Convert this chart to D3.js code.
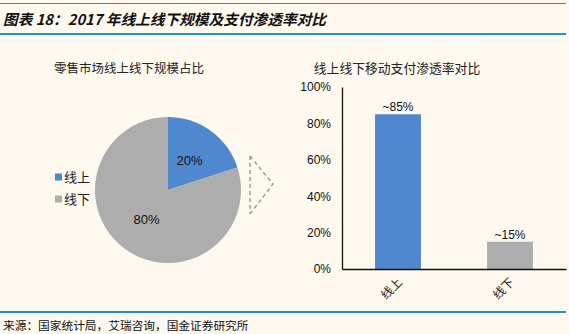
<!DOCTYPE html>
<html><head><meta charset="utf-8">
<script src="https://cdn.jsdelivr.net/npm/d3@7/dist/d3.min.js"></script>
<style>
html,body{margin:0;padding:0;background:#fdf9ef;}
svg{display:block;}
</style></head>
<body>
<svg id="c" width="569" height="334"></svg>
<script>
const pieCategories = ["线上", "线下"];
const pieValues = [20, 80];
const pieLabels = ["20%", "80%"];
const barCategories = ["线上", "线下"];
const barValues = [0.85, 0.15];
const barLabels = ["~85%", "~15%"];
const yTicks = [0, 0.2, 0.4, 0.6, 0.8, 1.0];
const colors = ["#5088d0", "#adadad"];

const svg = d3.select("#c");
const cjk = "'Noto Sans CJK SC','Microsoft YaHei',sans-serif";
const num = "'Liberation Sans',Arial,sans-serif";
const lineColor = "#1a93d1";

// header/footer lines
svg.append("line").attr("x1",0).attr("x2",566).attr("y1",3.5).attr("y2",3.5).attr("stroke",lineColor).attr("stroke-width",1);
svg.append("line").attr("x1",0).attr("x2",566).attr("y1",34).attr("y2",34).attr("stroke",lineColor).attr("stroke-width",2);
svg.append("line").attr("x1",0).attr("x2",566).attr("y1",312).attr("y2",312).attr("stroke",lineColor).attr("stroke-width",2);

svg.append("text").attr("x",3).attr("y",25).attr("font-family",cjk).attr("font-size",14.7)
  .attr("font-weight","bold").attr("font-style","italic").attr("fill","#111")
  .text("图表 18：2017 年线上线下规模及支付渗透率对比");
svg.append("text").attr("x",3).attr("y",330).attr("font-family",cjk).attr("font-size",11.7).attr("fill","#111")
  .text("来源：国家统计局，艾瑞咨询，国金证券研究所");

// ---- pie ----
svg.append("text").attr("x",129).attr("y",73).attr("text-anchor","middle").attr("font-family",cjk)
  .attr("font-size",12.5).attr("fill","#222").text("零售市场线上线下规模占比");
const cx = 168, cy = 190, r = 73;
const pie = d3.pie().sort(null).value(d => d)(pieValues);
const arc = d3.arc().innerRadius(0).outerRadius(r);
const g = svg.append("g").attr("transform",`translate(${cx},${cy})`);
g.selectAll("path").data(pie).join("path").attr("d",arc).attr("fill",(d,i)=>colors[i]);
const labelArc = d3.arc().innerRadius(r*0.5).outerRadius(r*0.5);
g.selectAll("text.pl").data(pie).join("text").attr("class","pl")
  .attr("transform",(d,i)=>{const c=labelArc.centroid(d); return `translate(${c[0]},${c[1]})`;})
  .attr("text-anchor","middle").attr("dy","0.35em").attr("font-family",num).attr("font-size",13)
  .attr("fill","#111").text((d,i)=>pieLabels[i]);

// legend
const lg = svg.append("g");
pieCategories.forEach((c,i)=>{
  const y = 177 + i*22;
  lg.append("rect").attr("x",55).attr("y",y-3.5).attr("width",7).attr("height",7).attr("fill",colors[i]);
  lg.append("text").attr("x",64).attr("y",y).attr("dy","0.35em").attr("font-family",cjk).attr("font-size",13)
    .attr("fill","#222").text(c);
});

// dashed triangle
svg.append("path").attr("d","M250,156 L250,214 M250,156 L273,184 L250,214")
  .attr("fill","none").attr("stroke","#8796aa").attr("stroke-width",1.3).attr("stroke-dasharray","4,3");

// ---- bar ----
svg.append("text").attr("x",397).attr("y",73).attr("text-anchor","middle").attr("font-family",cjk)
  .attr("font-size",12.8).attr("fill","#222").text("线上线下移动支付渗透率对比");
const x0 = 342, x1 = 566, yTop = 87, yBot = 269;
const x = d3.scaleBand().domain(barCategories).range([x0,x1]).paddingInner(0.59).paddingOuter(0.295);
const y = d3.scaleLinear().domain([0,1]).range([yBot,yTop]);
svg.selectAll("rect.bar").data(barValues).join("rect").attr("class","bar")
  .attr("x",(d,i)=>x(barCategories[i])).attr("width",x.bandwidth())
  .attr("y",d=>y(d)).attr("height",d=>yBot-y(d)).attr("fill",(d,i)=>colors[i]);
svg.selectAll("text.bl").data(barValues).join("text").attr("class","bl")
  .attr("x",(d,i)=>x(barCategories[i])+x.bandwidth()/2).attr("y",d=>y(d)-3)
  .attr("text-anchor","middle").attr("font-family",num).attr("font-size",12).attr("fill","#111")
  .text((d,i)=>barLabels[i]);

const yAxis = svg.append("g").attr("transform",`translate(${x0},0)`)
  .call(d3.axisLeft(y).tickValues(yTicks).tickSize(0).tickPadding(11).tickFormat(d3.format(".0%")));
yAxis.select(".domain").attr("stroke","#111").attr("stroke-width",1.3);
yAxis.selectAll("text").attr("font-family",num).attr("font-size",12).attr("fill","#111");

const xAxis = svg.append("g").attr("transform",`translate(0,${yBot})`)
  .call(d3.axisBottom(x).tickSize(0).tickFormat(()=>""));
xAxis.select(".domain").attr("stroke","#111").attr("stroke-width",1.3);
xAxis.selectAll(".tick").append("text")
  .attr("transform","translate(2,11) rotate(-45)").attr("text-anchor","end").attr("dy","0.35em")
  .attr("font-family",cjk).attr("font-size",12).attr("fill","#222").text(d=>d);
</script>
</body></html>
